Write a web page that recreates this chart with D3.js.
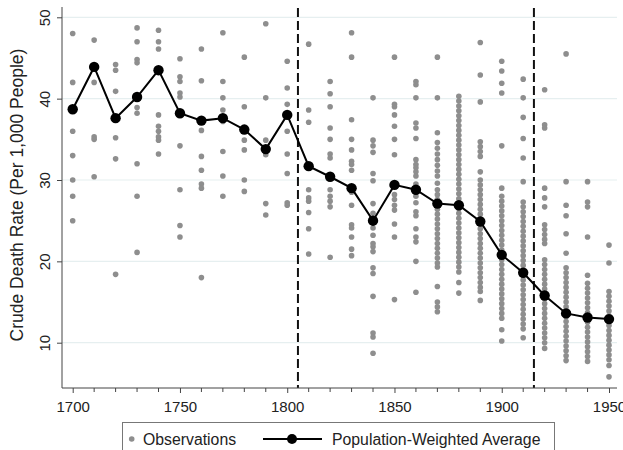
<!DOCTYPE html>
<html><head><meta charset="utf-8">
<script src="https://cdn.jsdelivr.net/npm/d3@7"></script>
<style>body{margin:0;background:#fff;}svg{display:block;font-family:"Liberation Sans",Arial,sans-serif;}</style>
</head><body><svg id="c" width="623" height="450"></svg>
<script>
const years = [1700,1710,1720,1730,1740,1750,1760,1770,1780,1790,1800,1810,1820,1830,1840,1850,1860,1870,1880,1890,1900,1910,1920,1930,1940,1950];
const averages = [38.7,43.9,37.6,40.2,43.5,38.2,37.3,37.6,36.2,33.8,38.0,31.7,30.4,29.0,25.0,29.4,28.8,27.1,26.9,24.9,20.8,18.6,15.8,13.6,13.1,12.9];
const observations = [
  [48.0,42.0,36.0,33.0,30.0,28.0,25.0],
  [47.2,42.0,35.3,35.0,30.4],
  [44.2,43.5,40.9,35.2,32.6,18.4],
  [48.7,47.0,44.8,44.4,38.9,38.2,32.0,28.0,21.1],
  [48.4,47.0,46.1,38.0,36.6,36.0,35.3,34.9,33.2],
  [44.9,42.7,42.1,40.7,40.2,34.2,28.8,24.4,23.0],
  [46.1,42.2,36.1,32.9,31.2,29.5,29.0,18.0],
  [48.1,42.1,40.1,38.6,37.2,33.5,30.5,28.0],
  [45.1,39.0,34.9,33.7,30.0,28.6],
  [49.2,40.1,34.9,33.1,27.1,25.7],
  [44.6,41.3,39.3,36.0,33.2,30.8,27.2,26.9],
  [46.7,38.6,37.1,28.8,27.8,27.4,26.0,24.0,20.9],
  [42.1,40.6,39.0,36.4,35.0,33.2,32.7,28.8,28.0,27.4,26.7,20.5],
  [48.1,45.1,37.4,35.0,33.7,32.3,31.9,31.2,28.5,26.9,24.5,24.1,23.0,21.5,20.7],
  [40.1,34.9,34.2,33.4,30.8,29.9,27.1,25.9,24.1,23.2,22.2,21.8,21.2,19.2,18.5,15.7,11.2,10.7,8.7],
  [45.1,39.3,39.0,38.0,36.6,35.0,33.1,28.2,27.6,26.9,26.3,24.6,23.0,15.3],
  [42.1,41.7,40.1,37.0,36.4,35.1,32.5,31.9,31.5,31.0,30.5,29.5,28.8,28.0,27.2,26.1,25.6,24.0,23.0,22.4,20.0,16.2],
  [45.1,40.1,35.8,34.6,33.9,33.2,32.5,31.8,31.1,30.5,29.6,28.8,28.2,27.6,27.0,26.4,25.8,25.2,24.6,24.0,23.4,22.8,22.2,21.6,21.0,20.4,19.8,19.3,16.9,15.0,14.4,13.8],
  [40.3,39.7,39.1,38.5,37.9,37.3,36.7,36.1,35.5,34.9,34.3,33.7,33.1,32.5,31.9,31.3,30.7,30.1,29.5,28.9,28.3,27.7,27.1,26.5,25.9,25.3,24.7,24.1,23.5,22.9,22.3,21.7,21.1,20.5,19.9,19.3,18.7,17.4,16.1],
  [46.9,42.9,39.6,34.7,34.1,33.5,32.9,31.0,30.0,29.4,28.8,28.2,27.6,27.0,26.4,25.8,25.2,24.6,24.0,23.4,22.8,22.2,21.6,21.0,20.4,19.8,19.2,18.6,18.0,17.4,16.8,16.3,15.2],
  [44.6,43.4,41.9,40.7,34.2,29.0,28.0,27.4,26.8,26.2,25.6,25.0,24.4,23.8,23.2,22.6,22.0,21.4,20.8,20.2,19.6,19.0,18.4,17.8,17.2,16.6,16.0,15.4,14.8,14.2,13.6,13.0,11.6,10.2],
  [42.4,40.1,37.7,35.1,32.7,29.8,27.3,26.7,26.1,25.5,24.9,24.3,23.7,23.1,22.5,21.9,21.3,20.7,20.1,19.5,18.9,18.3,17.7,17.1,16.5,15.9,15.3,14.7,14.1,13.5,12.9,12.3,11.7,10.6],
  [41.1,36.8,36.4,29.0,27.8,26.7,24.5,23.9,23.3,22.7,22.2,20.2,19.6,19.0,18.4,17.8,17.2,16.6,16.0,15.4,14.8,14.2,13.6,13.0,12.4,11.8,11.2,10.6,10.0,9.3],
  [45.5,29.8,26.9,25.6,23.4,21.0,19.2,18.6,18.0,17.4,16.8,16.2,15.6,15.0,14.4,13.8,13.2,12.6,12.0,11.4,10.8,10.2,9.6,9.0,8.4,7.8],
  [29.8,27.3,26.7,23.0,18.3,17.3,16.7,16.1,15.5,14.9,14.3,13.7,13.1,12.5,11.9,11.3,10.7,10.1,9.5,8.9,8.3,7.7],
  [22.0,19.8,16.3,15.7,15.1,14.5,13.9,13.3,12.7,12.1,11.5,10.9,10.3,9.7,9.1,8.5,7.9,7.2,5.8]
];
const xTicks = [1700,1750,1800,1850,1900,1950];
const xMinorTicks = [1700,1710,1720,1730,1740,1750,1760,1770,1780,1790,1800,1810,1820,1830,1840,1850,1860,1870,1880,1890,1900,1910,1920,1930,1940,1950];
const yTicks = [10,20,30,40,50];
const breakYears = [1805,1915];
const yTitle = "Crude Death Rate (Per 1,000 People)";
const legendLabels = ["Observations","Population-Weighted Average"];

const svg = d3.select("#c");
const x = d3.scaleLinear().domain([1700,1950]).range([72.7,609]);
const y = d3.scaleLinear().domain([10,50]).range([342.7,17.3]);
const axisY0 = 388, axisX0 = 62, plotRight = 617, plotTop = 7;
const textCol = "#222";

// gridlines
svg.append("g").selectAll("line").data(yTicks).join("line")
  .attr("x1",axisX0).attr("x2",plotRight)
  .attr("y1",d=>y(d)).attr("y2",d=>y(d))
  .attr("stroke","#e6eff0").attr("stroke-width",1.2);

// observations
const obsFlat = [];
years.forEach((yr,i)=>observations[i].forEach(v=>obsFlat.push({yr,v})));
svg.append("g").selectAll("circle").data(obsFlat).join("circle")
  .attr("cx",d=>x(d.yr)).attr("cy",d=>y(d.v)).attr("r",2.8)
  .attr("fill","#8e8e8e");

// dashed lines
svg.append("g").selectAll("line").data(breakYears).join("line")
  .attr("x1",d=>x(d)).attr("x2",d=>x(d))
  .attr("y1",plotTop+1).attr("y2",axisY0)
  .attr("stroke","#111").attr("stroke-width",2).attr("stroke-dasharray","9,4");

// average line
const avgData = years.map((yr,i)=>({yr,v:averages[i]}));
svg.append("path").datum(avgData)
  .attr("d",d3.line().x(d=>x(d.yr)).y(d=>y(d.v)))
  .attr("fill","none").attr("stroke","#000").attr("stroke-width",2);
svg.append("g").selectAll("circle").data(avgData).join("circle")
  .attr("cx",d=>x(d.yr)).attr("cy",d=>y(d.v)).attr("r",5.2).attr("fill","#000");

// y axis
const yAxis = svg.append("g").attr("transform",`translate(${axisX0},0)`)
  .call(d3.axisLeft(y).tickValues(yTicks).tickSize(5).tickPadding(0).tickFormat(d3.format("d")));
yAxis.select(".domain").attr("d",`M0,${plotTop}V${axisY0}`).attr("stroke","#444");
yAxis.selectAll(".tick line").attr("stroke","#444");
yAxis.selectAll(".tick text").attr("x",null).attr("dy",null)
  .attr("transform","translate(-12,0) rotate(-90)")
  .attr("text-anchor","middle").attr("font-size",15).attr("fill",textCol)
  .attr("font-family","Liberation Sans, Arial, sans-serif");

// x axis
const xAxis = svg.append("g").attr("transform",`translate(0,${axisY0})`)
  .call(d3.axisBottom(x).tickValues(xTicks).tickSize(5).tickPadding(8).tickFormat(d3.format("d")));
xAxis.select(".domain").attr("d",`M${axisX0},0H${plotRight}`).attr("stroke","#444");
xAxis.selectAll(".tick line").attr("stroke","#444");
xAxis.selectAll(".tick text").attr("font-size",15).attr("fill",textCol)
  .attr("font-family","Liberation Sans, Arial, sans-serif");
svg.append("g").attr("transform",`translate(0,${axisY0})`)
  .selectAll("line").data(xMinorTicks.filter(t=>!xTicks.includes(t))).join("line")
  .attr("x1",d=>x(d)).attr("x2",d=>x(d)).attr("y1",0).attr("y2",4)
  .attr("stroke","#444");

// y title
svg.append("text").attr("transform",`translate(23,195) rotate(-90)`)
  .attr("text-anchor","middle").attr("font-size",17.5).attr("fill",textCol)
  .text(yTitle);

// legend
const lg = svg.append("g");
lg.append("rect").attr("x",122.5).attr("y",422.5).attr("width",432).attr("height",40)
  .attr("fill","#fff").attr("stroke","#777").attr("stroke-width",1);
lg.append("circle").attr("cx",131.7).attr("cy",439).attr("r",2.8).attr("fill","#8e8e8e");
lg.append("text").attr("x",143).attr("y",445).attr("font-size",15.8).attr("fill",textCol).text(legendLabels[0]);
lg.append("line").attr("x1",263).attr("x2",322).attr("y1",439).attr("y2",439).attr("stroke","#000").attr("stroke-width",2);
lg.append("circle").attr("cx",292).attr("cy",439).attr("r",5).attr("fill","#000");
lg.append("text").attr("x",332).attr("y",445).attr("font-size",15.8).attr("fill",textCol).text(legendLabels[1]);
</script></body></html>
